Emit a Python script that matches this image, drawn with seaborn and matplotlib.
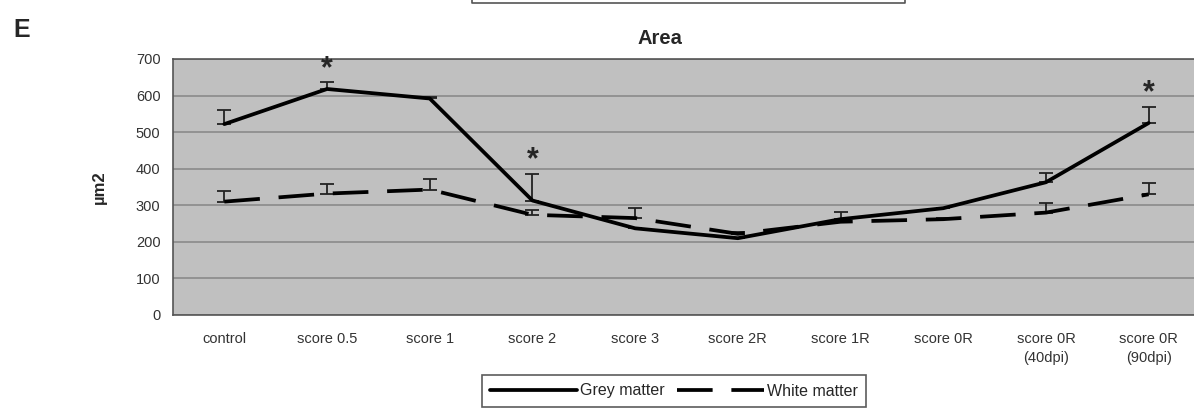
import numpy as np
import pandas as pd
import matplotlib
matplotlib.use("Agg")
import matplotlib.pyplot as plt
from matplotlib.lines import Line2D
import seaborn as sns

# data
categories = ["control", "score 0.5", "score 1", "score 2", "score 3",
              "score 2R", "score 1R", "score 0R", "score 0R\n(40dpi)", "score 0R\n(90dpi)"]
grey = [522, 618, 592, 313, 237, 210, 262, 292, 363, 525]
grey_err = [39, 18, 4, 73, 0, 0, 19, 0, 25, 45]
white = [310, 332, 343, 274, 265, 222, 255, 262, 280, 330]
white_err = [28, 27, 28, 13, 28, 4, 0, 4, 27, 32]
stars = [1, 3, 9]  # grey matter points marked significant
yticks = [0, 100, 200, 300, 400, 500, 600, 700]

sns.set_style("white")
plt.rcParams["font.family"] = ["Liberation Sans", "DejaVu Sans"]

W, H = 1194, 412
LW = 2.7
DASH = (0, (9.5, 5))
fig = plt.figure(figsize=(W / 100, H / 100), dpi=100)
ax = fig.add_axes([173 / W, 1 - 315 / H, (1200 - 173) / W, 256 / H])
ax.set_facecolor("#c0c0c0")

df = pd.DataFrame({"x": np.arange(len(categories)), "grey": grey, "white": white})
sns.lineplot(data=df, x="x", y="grey", ax=ax, color="black", lw=LW, zorder=3)
sns.lineplot(data=df, x="x", y="white", ax=ax, color="black", lw=LW,
             linestyle=DASH, zorder=3)

x = df["x"].values
ax.errorbar(x, grey, yerr=[np.zeros(len(x)), grey_err], fmt="none", ecolor="#222222",
            elinewidth=1.3, capsize=5, capthick=1.3, zorder=2)
ax.errorbar(x, white, yerr=[np.zeros(len(x)), white_err], fmt="none", ecolor="#222222",
            elinewidth=1.3, capsize=5, capthick=1.3, zorder=2)
for i in stars:
    ax.annotate("*", xy=(i, grey[i] + grey_err[i]), xytext=(0, -1), textcoords="offset points",
                ha="center", va="bottom", fontsize=22, fontweight="bold")

ax.set_xlim(-0.5, len(categories) - 0.5)
ax.set_ylim(0, 700)
ax.set_yticks(yticks)
ax.yaxis.grid(True, color="#8a8a8a", lw=1.2)
ax.set_axisbelow(True)
ax.set_xticks(x)
ax.set_xticklabels(categories, fontsize=10.5, color="#333333", linespacing=1.5)
ax.set_xticks(np.arange(len(categories) + 1) - 0.5, minor=True)
ax.tick_params(axis="x", which="major", length=0, pad=12)
ax.tick_params(axis="x", which="minor", length=4, color="#555555", direction="out")
ax.tick_params(axis="y", length=3, color="#555555", direction="out", pad=6,
               labelsize=10.5, labelcolor="#333333")
ax.set_xlabel("")
ax.set_ylabel("µm2", fontsize=12, fontweight="bold")
ax.yaxis.set_label_coords(-0.064, 0.5)
for s in ax.spines.values():
    s.set_color("#555555")
    s.set_linewidth(1.2)

fig.text(660 / W, 1 - 38 / H, "Area", ha="center", va="center", fontsize=14.5, fontweight="bold")
fig.text(22 / W, 1 - 30 / H, "E", ha="center", va="center", fontsize=18, fontweight="bold")

# remnant of the panel above
fig.add_artist(Line2D([472 / W, 472 / W, 905 / W, 905 / W], [1.02, 1 - 3 / H, 1 - 3 / H, 1.02],
                      transform=fig.transFigure, color="#555555", lw=1.2))

handles = [Line2D([], [], color="black", lw=LW),
           Line2D([], [], color="black", lw=LW, linestyle=DASH)]
leg = fig.legend(handles, ["Grey matter", "White matter"], loc="center",
                 bbox_to_anchor=(674 / W, 1 - 391 / H), ncol=2, fontsize=11.5,
                 handlelength=5.4, handletextpad=0.2, columnspacing=0.8,
                 frameon=True, fancybox=False, borderpad=0.55)
leg.get_frame().set_edgecolor("#333333")
leg.get_frame().set_linewidth(1.2)

fig.savefig("out.png", dpi=100)
